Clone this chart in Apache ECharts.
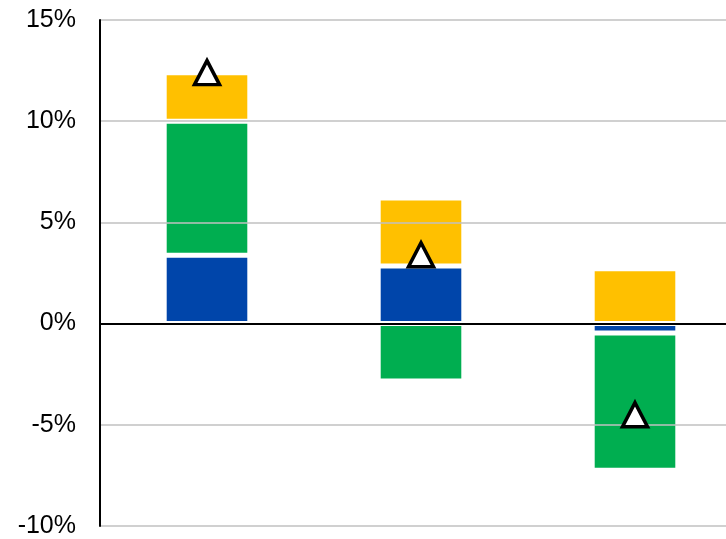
<!DOCTYPE html>
<html>
<head>
<meta charset="utf-8">
<script src="https://cdn.jsdelivr.net/npm/echarts@6/dist/echarts.min.js"></script>
<style>
html,body{margin:0;padding:0;background:#fff;}
#chart{width:726px;height:539px;}
</style>
</head>
<body>
<div id="chart"></div>
<script>
var categories = ['A', 'B', 'C'];
var blueValues = [3.38, 2.84, -0.47];
var greenValues = [6.62, -2.84, -6.77];
var yellowValues = [2.39, 3.36, 2.71];
var triangleValues = [12.4, 3.4, -4.5];
var yTicks = { min: -10, max: 15, interval: 5 };

var chart = echarts.init(document.getElementById('chart'));
var barStyle = function (c) {
  return { color: c, borderColor: '#ffffff', borderWidth: 2.5 };
};
chart.setOption({
  animation: false,
  backgroundColor: '#ffffff',
  grid: { left: 100, right: -16, top: 20, bottom: 13, containLabel: false, outerBoundsMode: 'none' },
  xAxis: {
    type: 'category',
    data: categories,
    z: 10,
    axisLine: { onZero: true, lineStyle: { color: '#000000', width: 2 } },
    axisTick: { show: false },
    axisLabel: { show: false },
    splitLine: { show: false }
  },
  yAxis: {
    type: 'value',
    min: yTicks.min,
    max: yTicks.max,
    interval: yTicks.interval,
    z: 10,
    axisLine: { show: true, lineStyle: { color: '#000000', width: 2 } },
    axisTick: { show: false },
    axisLabel: {
      formatter: '{value}%',
      color: '#000000',
      fontFamily: 'Liberation Sans, Arial, sans-serif',
      fontSize: 25,
      margin: 24
    },
    splitLine: { show: true, lineStyle: { color: '#C0C0C0', width: 1.5 } }
  },
  series: [
    { name: 'Blue', type: 'bar', stack: 's', barWidth: '40%', data: blueValues, itemStyle: barStyle('#0045AA') },
    { name: 'Green', type: 'bar', stack: 's', data: greenValues, itemStyle: barStyle('#00AE50') },
    { name: 'Yellow', type: 'bar', stack: 's', data: yellowValues, itemStyle: barStyle('#FFC000') },
    {
      name: 'Total', type: 'scatter', data: triangleValues, z: 20,
      symbol: 'triangle', symbolSize: [25, 24],
      itemStyle: { color: '#ffffff', borderColor: '#000000', borderWidth: 3.5, opacity: 1 }
    }
  ]
});
</script>
</body>
</html>
